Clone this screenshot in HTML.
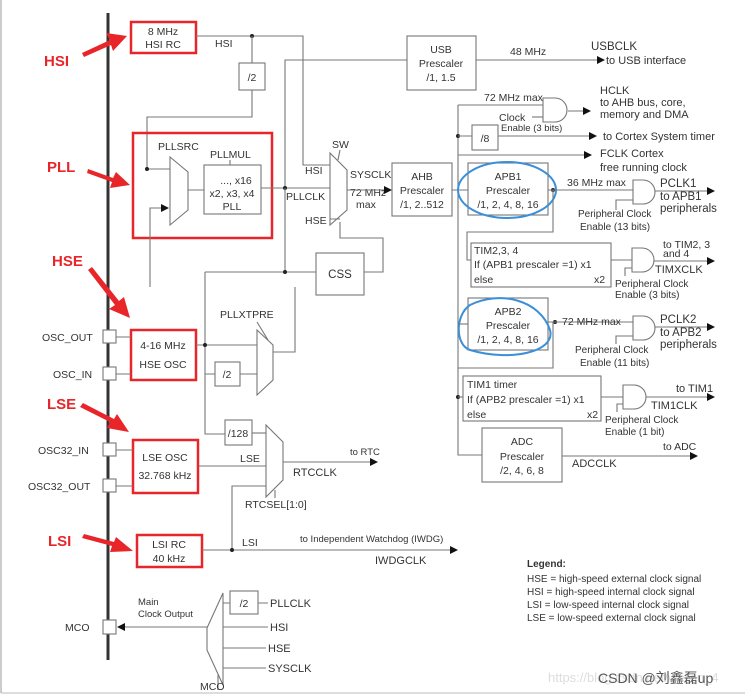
<!DOCTYPE html>
<html><head><meta charset="utf-8"><style>
html,body{margin:0;padding:0;background:#fff;}
svg{display:block;}
text{font-family:"Liberation Sans",Arial,sans-serif;font-size:10.5px;fill:#333;}
.l{stroke:#777;stroke-width:1.1;fill:none;}
.b{stroke:#777;stroke-width:1.1;fill:#fff;}
.r{stroke:#e8262a;stroke-width:2.5;fill:none;}
.bl{stroke:#3a8fd8;stroke-width:2;fill:none;}
.red{fill:#e8262a;font-weight:bold;font-size:15px;}
.m{text-anchor:middle;}
</style></head><body>
<svg width="745" height="698" viewBox="0 0 745 698" xmlns="http://www.w3.org/2000/svg">
<defs>
<marker id="a" markerWidth="8" markerHeight="8" refX="7" refY="4" orient="auto" markerUnits="userSpaceOnUse"><path d="M0,0 L8,4 L0,8z" fill="#111"/></marker>
</defs>
<line x1="1" y1="0" x2="1" y2="693" stroke="#999"/>
<line x1="1" y1="693" x2="745" y2="693" stroke="#bbb"/>
<line x1="108" y1="13" x2="108" y2="660" stroke="#333" stroke-width="3"/>

<!-- HSI -->
<rect x="131" y="22" width="65" height="31" class="r"/>
<text x="163" y="35" class="m">8 MHz</text><text x="163" y="48" class="m">HSI RC</text>
<path class="l" d="M196,36 H303 V165 H330"/>
<circle cx="252" cy="36" r="2" fill="#222"/>
<text x="215" y="47">HSI</text>
<path class="l" d="M252,36 V63"/>
<rect x="239" y="63" width="26" height="27" class="b"/><text x="252" y="81" class="m">/2</text>
<path class="l" d="M252,90 V117 H147 V169 H170"/>
<circle cx="147" cy="169" r="2" fill="#222"/>

<!-- USB -->
<path class="l" d="M285,188 V60 H407"/>
<rect x="407" y="36" width="69" height="54" class="b"/>
<text x="441" y="53" class="m">USB</text><text x="441" y="67" class="m">Prescaler</text><text x="441" y="81" class="m">/1, 1.5</text>
<path class="l" d="M476,60 H604" marker-end="url(#a)"/>
<text x="510" y="55">48 MHz</text>
<text x="591" y="50" style="font-size:11.5px">USBCLK</text>
<text x="606" y="64" style="font-size:11px">to USB interface</text>

<!-- PLL -->
<rect x="133" y="133" width="139" height="105" class="r"/>
<text x="158" y="150">PLLSRC</text>
<path class="b" d="M170,157 L188,172 L188,210 L170,225 Z"/>
<path class="l" d="M150,287 V208 H168" marker-end="url(#a)"/>
<text x="210" y="158">PLLMUL</text>
<line x1="230" y1="160" x2="230" y2="165" class="l"/>
<rect x="204" y="165" width="57" height="49" class="b"/>
<text x="236" y="184" class="m">..., x16</text><text x="232" y="197" class="m">x2, x3, x4</text><text x="232" y="210" class="m">PLL</text>
<path class="l" d="M188,190 H204 M261,188 H330"/>
<circle cx="285" cy="188" r="2" fill="#222"/>
<text x="286" y="200">PLLCLK</text>

<!-- SW -->
<path class="b" d="M330,153 L347,170 L347,210 L330,225 Z"/>
<text x="332" y="148">SW</text><line x1="340" y1="150" x2="338" y2="160" class="l"/>
<text x="305" y="174">HSI</text><text x="305" y="224">HSE</text>
<text x="350" y="178">SYSCLK</text><text x="350" y="196">72 MHz</text><text x="356" y="208">max</text>
<path class="l" d="M205,272 H316 M285,188 V272 M205,272 V434 H225"/>
<circle cx="285" cy="272" r="2" fill="#222"/>
<path class="l" d="M340,219 H330 M340,222 V238 H383 V272 H364"/>
<rect x="316" y="253" width="48" height="42" class="b"/><text x="340" y="278" class="m" style="font-size:11.5px">CSS</text>

<!-- AHB -->
<path class="l" d="M347,190 H391" marker-end="url(#a)"/>
<rect x="392" y="163" width="60" height="53" class="b"/>
<text x="422" y="180" class="m">AHB</text><text x="422" y="194" class="m">Prescaler</text><text x="422" y="208" class="m">/1, 2..512</text>
<path class="l" d="M452,190 H468 M458,105 V455 H482"/>
<!-- HCLK -->
<path class="l" d="M458,105 H543"/>
<text x="484" y="101">72 MHz max</text>
<path class="b" d="M543,98 H555 A12,12 0 0 1 555,122 H543 Z"/>
<path class="l" d="M568,111 H590" marker-end="url(#a)"/>
<path class="l" d="M532,117 H543"/>
<text x="499" y="121">Clock</text><text x="501" y="131" style="font-size:9.5px">Enable (3 bits)</text>
<text x="600" y="94" style="font-size:11px">HCLK</text><text x="600" y="106" style="font-size:11px">to AHB bus, core,</text><text x="600" y="118" style="font-size:11px">memory and DMA</text>
<circle cx="458" cy="136" r="2" fill="#222"/>
<path class="l" d="M458,136 H472 M498,136 H596" marker-end="url(#a)"/>
<rect x="472" y="125" width="26" height="25" class="b"/><text x="485" y="142" class="m">/8</text>
<text x="603" y="140" style="font-size:11px">to Cortex System timer</text>
<path class="l" d="M458,155 H591" marker-end="url(#a)"/>
<text x="600" y="157" style="font-size:11px">FCLK Cortex</text><text x="600" y="171" style="font-size:11px">free running clock</text>

<!-- APB1 -->
<rect x="468" y="163" width="80" height="52" class="b"/>
<text x="508" y="180" class="m">APB1</text><text x="508" y="194" class="m">Prescaler</text><text x="508" y="208" class="m">/1, 2, 4, 8, 16</text>
<ellipse cx="507" cy="190" rx="49" ry="28" class="bl"/>
<circle cx="553" cy="190" r="2" fill="#222"/>
<path class="l" d="M548,190 H633"/>
<text x="567" y="186">36 MHz max</text>
<path class="b" d="M633,180 H643 A12,12 0 0 1 643,204 H633 Z"/>
<path class="l" d="M655,191 H714" marker-end="url(#a)"/>
<path class="l" d="M633,200 H616 V210"/>
<text x="578" y="217" style="font-size:10px">Peripheral Clock</text><text x="580" y="230" style="font-size:10px">Enable (13 bits)</text>
<text x="660" y="187" style="font-size:11.5px">PCLK1</text><text x="660" y="200" style="font-size:11.5px">to APB1</text><text x="660" y="212" style="font-size:11.5px">peripherals</text>
<path class="l" d="M553,190 V232 H467 V260 H471"/>
<rect x="471" y="243" width="140" height="44" class="b"/>
<text x="474" y="254">TIM2,3, 4</text><text x="474" y="268">If (APB1 prescaler =1) x1</text><text x="474" y="283">else</text><text x="594" y="283">x2</text>
<path class="l" d="M611,260 H632"/>
<path class="b" d="M632,248 H642 A12,12 0 0 1 642,272 H632 Z"/>
<path class="l" d="M654,261 H714" marker-end="url(#a)"/>
<path class="l" d="M632,268 H625 V276"/>
<text x="663" y="248">to TIM2, 3</text><text x="663" y="257">and 4</text><text x="655" y="273" style="font-size:11px">TIMXCLK</text>
<text x="615" y="287" style="font-size:10px">Peripheral Clock</text><text x="615" y="298" style="font-size:10px">Enable (3 bits)</text>

<!-- APB2 -->
<rect x="468" y="298" width="80" height="52" class="b"/>
<text x="508" y="315" class="m">APB2</text><text x="508" y="329" class="m">Prescaler</text><text x="508" y="343" class="m">/1, 2, 4, 8, 16</text>
<path class="bl" d="M470,305 C500,290 540,300 550,330 C556,352 510,362 470,350 C455,345 455,315 470,305"/>
<path class="l" d="M458,324 H468"/>
<circle cx="555" cy="322" r="2" fill="#222"/>
<path class="l" d="M548,322 H633"/>
<text x="562" y="325">72 MHz max</text>
<path class="b" d="M633,316 H643 A12,12 0 0 1 643,340 H633 Z"/>
<path class="l" d="M655,327 H714" marker-end="url(#a)"/>
<path class="l" d="M633,336 H616 V344"/>
<text x="660" y="323" style="font-size:11.5px">PCLK2</text><text x="660" y="336" style="font-size:11.5px">to APB2</text><text x="660" y="348" style="font-size:11.5px">peripherals</text>
<text x="575" y="353" style="font-size:10px">Peripheral Clock</text><text x="580" y="366" style="font-size:10px">Enable (11 bits)</text>
<path class="l" d="M553,322 V368 H458"/>
<!-- TIM1 -->
<circle cx="458" cy="397" r="2" fill="#222"/>
<path class="l" d="M458,397 H463"/>
<rect x="463" y="376" width="138" height="45" class="b"/>
<text x="467" y="388">TIM1 timer</text><text x="467" y="403">If (APB2 prescaler =1) x1</text><text x="467" y="418">else</text><text x="587" y="418">x2</text>
<path class="l" d="M601,397 H623"/>
<path class="b" d="M623,385 H634 A12,12 0 0 1 634,409 H623 Z"/>
<path class="l" d="M646,397 H714" marker-end="url(#a)"/>
<path class="l" d="M623,404 H617 V412"/>
<text x="676" y="392" style="font-size:11px">to TIM1</text><text x="651" y="409" style="font-size:11px">TIM1CLK</text>
<text x="605" y="423" style="font-size:10px">Peripheral Clock</text><text x="605" y="435" style="font-size:10px">Enable (1 bit)</text>
<!-- ADC -->
<rect x="482" y="428" width="80" height="54" class="b"/>
<text x="522" y="445" class="m">ADC</text><text x="522" y="460" class="m">Prescaler</text><text x="522" y="474" class="m">/2, 4, 6, 8</text>
<path class="l" d="M562,456 H697" marker-end="url(#a)"/>
<text x="663" y="450">to ADC</text><text x="572" y="467" style="font-size:11px">ADCCLK</text>

<!-- HSE -->
<rect x="131" y="330" width="65" height="50" class="r"/>
<text x="163" y="349" class="m">4-16 MHz</text><text x="163" y="368" class="m">HSE OSC</text>
<rect x="103" y="330" width="13" height="13" class="b"/><rect x="103" y="367" width="13" height="13" class="b"/>
<path class="l" d="M116,337 H131 M116,374 H131"/>
<text x="42" y="341">OSC_OUT</text><text x="53" y="378">OSC_IN</text>
<path class="l" d="M196,345 H257 M205,374 H215 M240,374 H257"/>
<circle cx="205" cy="345" r="2" fill="#222"/>
<rect x="215" y="362" width="25" height="24" class="b"/><text x="227" y="378" class="m">/2</text>
<text x="220" y="318">PLLXTPRE</text>
<path class="b" d="M257,330 L273,345 L273,380 L257,395 Z"/>
<line x1="257" y1="322" x2="268" y2="340" class="l"/>
<path class="l" d="M273,352 H295 V287"/>

<!-- RTC -->
<rect x="225" y="420" width="27" height="25" class="b"/><text x="238" y="437" class="m">/128</text>
<path class="l" d="M252,433 H266"/>
<path class="b" d="M266,425 L283,442 L283,480 L266,497 Z"/>
<path class="l" d="M198,466 H266 M232,550 V486 H266 M275,490 V498"/>
<text x="240" y="462">LSE</text>
<text x="245" y="508">RTCSEL[1:0]</text>
<path class="l" d="M283,462 H377" marker-end="url(#a)"/>
<text x="350" y="455" style="font-size:9.5px">to RTC</text><text x="293" y="476" style="font-size:11px">RTCCLK</text>
<rect x="133" y="440" width="65" height="53" class="r"/>
<text x="165" y="461" class="m">LSE OSC</text><text x="165" y="479" class="m">32.768 kHz</text>
<rect x="103" y="443" width="13" height="13" class="b"/><rect x="103" y="479" width="13" height="13" class="b"/>
<path class="l" d="M116,450 H133 M116,486 H133"/>
<text x="38" y="454">OSC32_IN</text><text x="28" y="490">OSC32_OUT</text>

<!-- LSI -->
<rect x="137" y="535" width="65" height="32" class="r"/>
<text x="169" y="548" class="m">LSI RC</text><text x="169" y="562" class="m">40 kHz</text>
<path class="l" d="M202,550 H457" marker-end="url(#a)"/>
<circle cx="232" cy="550" r="2" fill="#222"/>
<text x="242" y="546">LSI</text>
<text x="300" y="542" style="font-size:9.5px">to Independent Watchdog (IWDG)</text>
<text x="375" y="564" style="font-size:11px">IWDGCLK</text>

<!-- MCO -->
<path class="b" d="M223,593 L207,628 L207,650 L223,685 Z"/>
<rect x="230" y="591" width="28" height="23" class="b"/><text x="244" y="607" class="m">/2</text>
<path class="l" d="M223,603 H230 M258,603 H268 M223,627 H268 M223,648 H266 M223,668 H266 M218,675 V690"/>
<text x="270" y="607" style="font-size:11px">PLLCLK</text><text x="270" y="631" style="font-size:11px">HSI</text><text x="268" y="652" style="font-size:11px">HSE</text><text x="268" y="672" style="font-size:11px">SYSCLK</text>
<text x="200" y="690">MCO</text>
<path class="l" d="M207,627 H118" marker-end="url(#a)"/>
<rect x="103" y="620" width="13" height="14" class="b"/>
<text x="65" y="631">MCO</text>
<text x="138" y="605" style="font-size:9.5px">Main</text><text x="138" y="617" style="font-size:9.5px">Clock Output</text>

<!-- red labels and arrows -->
<text x="44" y="66" class="red">HSI</text>
<text x="47" y="172" class="red">PLL</text>
<text x="52" y="266" class="red">HSE</text>
<text x="47" y="409" class="red">LSE</text>
<text x="48" y="546" class="red">LSI</text>
<g fill="#e8262a">
<path d="M82,53 L110,40 L106,33 L127,36 L113,51 L111,45 L84,57 Z"/>
<path d="M88,169 L113,178 L116,172 L130,185 L110,188 L112,182 L87,173 Z"/>
<path d="M88,270 L115,305 L109,309 L130,318 L124,297 L119,301 L92,267 Z"/>
<path d="M80,407 L110,422 L107,428 L129,432 L117,414 L114,419 L83,403 Z"/>
<path d="M82,538 L112,546 L110,552 L133,551 L116,537 L114,542 L84,534 Z"/>
</g>

<!-- legend -->
<text x="527" y="567" style="font-weight:bold;font-size:10px">Legend:</text>
<text x="527" y="582" style="font-size:10px">HSE = high-speed external clock signal</text>
<text x="527" y="595" style="font-size:10px">HSI = high-speed internal clock signal</text>
<text x="527" y="608" style="font-size:10px">LSI = low-speed internal clock signal</text>
<text x="527" y="621" style="font-size:10px">LSE = low-speed external clock signal</text>

<text x="548" y="682" style="fill:#ddd;font-size:13px">https://blog.csdn.net/weixin_4</text>
<text x="598" y="683" style="fill:#555;font-size:14px;font-family:'Liberation Sans','Noto Sans CJK SC',sans-serif">CSDN @刘鑫磊up</text>
</svg>
</body></html>
